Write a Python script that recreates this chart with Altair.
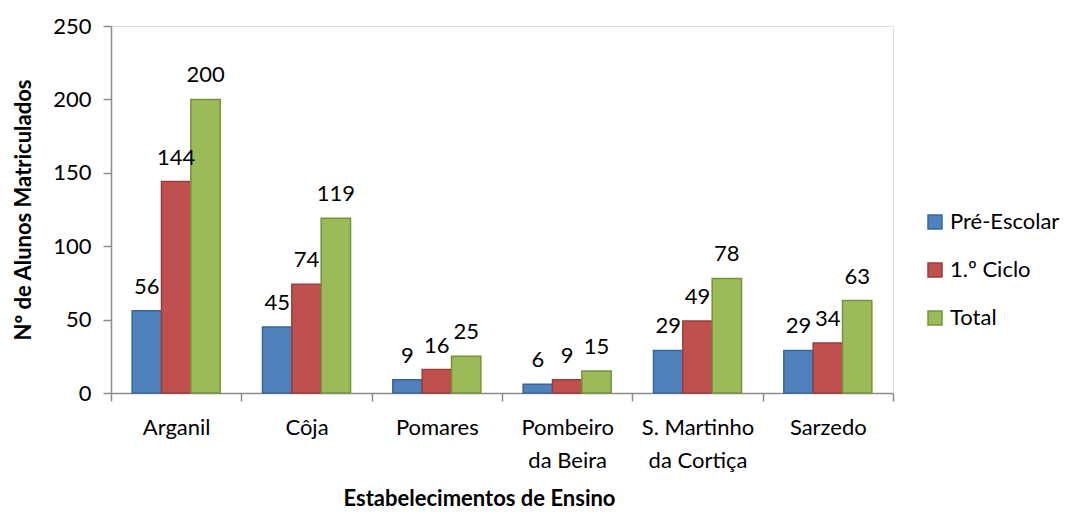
import altair as alt
import pandas as pd

schools = ["Arganil", "Côja", "Pomares", "Pombeiro da Beira", "S. Martinho da Cortiça", "Sarzedo"]
series = ["Pré-Escolar", "1.º Ciclo", "Total"]
pre_escolar = [56, 45, 9, 6, 29, 29]
primeiro_ciclo = [144, 74, 16, 9, 49, 34]
total = [200, 119, 25, 15, 78, 63]
y_ticks = [0, 50, 100, 150, 200, 250]
fills = ["#4F81BD", "#C0504D", "#9BBB59"]
strokes = ["#3A659A", "#9B3D3A", "#77933C"]

rows = []
for i, s in enumerate(schools):
    for name, vals in zip(series, [pre_escolar, primeiro_ciclo, total]):
        rows.append({"school": s, "series": name, "value": vals[i]})
df = pd.DataFrame(rows)

FONT = "Lato"
GRAY = "#8C8C8C"

label_expr = (
    "datum.value == 'Pombeiro da Beira' ? ['Pombeiro', 'da Beira'] : "
    "datum.value == 'S. Martinho da Cortiça' ? ['S. Martinho', 'da Cortiça'] : datum.value"
)

x = alt.X(
    "school:N",
    sort=schools,
    scale=alt.Scale(paddingInner=0, paddingOuter=0),
    axis=alt.Axis(
        title="Estabelecimentos de Ensino",
        titleFont=FONT, titleFontSize=22, titleFontWeight="bold", titleColor="#000000",
        titleX=368, titleY=112, titleBaseline="alphabetic", titleAnchor="start", titleAlign="center",
        labelExpr=label_expr, labelAngle=0, labelFont=FONT, labelFontSize=22,
        labelColor="#000000", labelPadding=16, labelLineHeight=33,
        tickBand="extent", tickSize=8, tickColor=GRAY, domainColor=GRAY,
        domainWidth=1.5, tickWidth=1.5, grid=False,
    ),
)
xo = alt.XOffset("series:N", sort=series, scale=alt.Scale(paddingInner=0, paddingOuter=0.72))
y = alt.Y(
    "value:Q",
    scale=alt.Scale(domain=[0, 250], nice=False),
    axis=alt.Axis(
        values=y_ticks, title="Nº de Alunos Matriculados",
        titleFont=FONT, titleFontSize=22, titleFontWeight="bold", titleColor="#000000",
        titleAngle=270, titleX=-88, titleY=183.5, titleBaseline="middle", titleAlign="center",
        labelFont=FONT, labelFontSize=22, labelColor="#000000", labelPadding=12,
        tickSize=8, tickColor=GRAY, domainColor=GRAY, domainWidth=1.5, tickWidth=1.5, grid=False,
    ),
)

legend_kw = dict(
    title=None, orient="none", legendX=813, legendY=185,
    symbolType="square", symbolSize=196, symbolStrokeWidth=1.5,
    labelFont=FONT, labelFontSize=22, labelColor="#000000",
    labelOffset=4, rowPadding=26, padding=0,
)

bars = alt.Chart(df).mark_bar(strokeWidth=1.5).encode(
    x=x,
    xOffset=xo,
    y=y,
    color=alt.Color(
        "series:N", sort=series,
        scale=alt.Scale(domain=series, range=fills),
        legend=alt.Legend(**legend_kw),
    ),
    stroke=alt.Stroke(
        "series:N", sort=series,
        scale=alt.Scale(domain=series, range=strokes),
        legend=alt.Legend(**legend_kw),
    ),
)

labels = alt.Chart(df).mark_text(
    font=FONT, fontSize=22, color="#000000", baseline="alphabetic", dy=-17
).encode(
    x=alt.X("school:N", sort=schools),
    xOffset=alt.XOffset("series:N", sort=series),
    y=alt.Y("value:Q"),
    text=alt.Text("value:Q"),
)

chart = (
    alt.layer(bars, labels)
    .properties(
        width=782, height=367,
        autosize=alt.AutoSizeParams(type="none"),
        padding={"left": 103, "top": 18, "right": 171, "bottom": 118},
    )
    .configure_view(fill="#E6E6E6", stroke="transparent")
    .configure(background="#FFFFFF")
)

chart.save("out.html", embed_options={"renderer": "svg", "actions": False})
